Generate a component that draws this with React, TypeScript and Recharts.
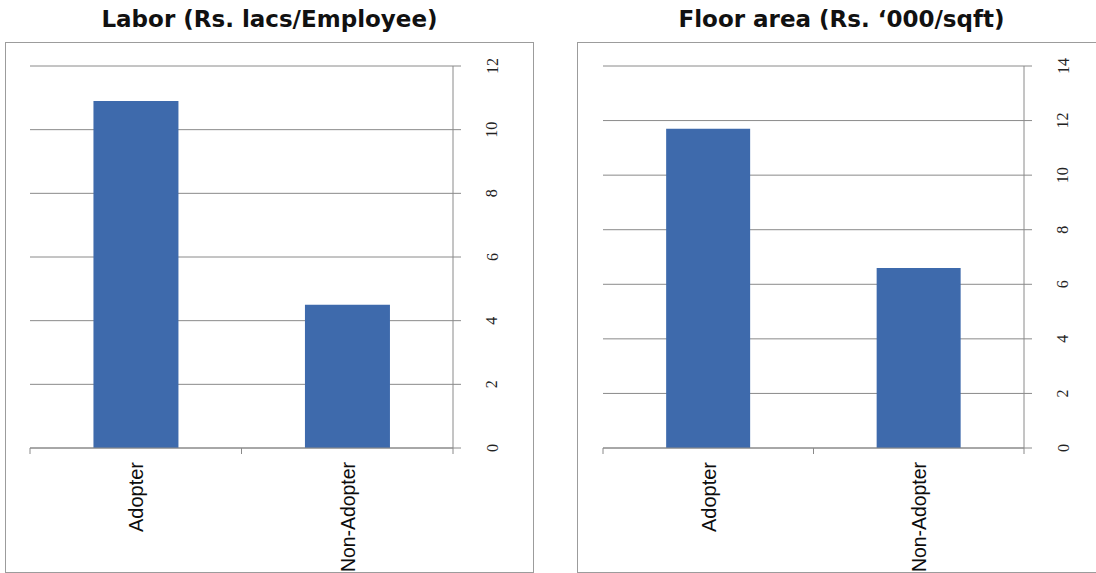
import React from "react";
import { BarChart, Bar, XAxis, YAxis, CartesianGrid } from "recharts";

const categories = ["Adopter", "Non-Adopter"];
const laborValues = [10.9, 4.5];
const floorAreaValues = [11.7, 6.6];
const laborTicks = [0, 2, 4, 6, 8, 10, 12];
const floorAreaTicks = [0, 2, 4, 6, 8, 10, 12, 14];

const BAR_BLUE = "#3e6aac";
const LINE_GREY = "#8a8a8a";
const BORDER_GREY = "#9c9c9c";

// category label plus the small boundary ticks between bands
function CategoryTick(props: any) {
  const { x, y, payload } = props;
  const half = payload.offset ?? 0;
  const isLast = payload.value === categories[categories.length - 1];
  const ty = y + 14;
  // condensed look: squeeze the label to about 10px per character
  const len = String(payload.value).length * 10;
  return (
    <g>
      <line x1={x - half} x2={x - half} y1={y} y2={y + 6} stroke={LINE_GREY} />
      {isLast && <line x1={x + half} x2={x + half} y1={y} y2={y + 6} stroke={LINE_GREY} />}
      <text
        x={x}
        y={ty}
        transform={`rotate(-90 ${x} ${ty})`}
        textAnchor="end"
        dominantBaseline="central"
        textLength={len}
        lengthAdjust="spacingAndGlyphs"
        style={{ fontFamily: "'Liberation Sans', Arial, sans-serif", fontSize: 21, fill: "#0d0d0d" }}
      >
        {payload.value}
      </text>
    </g>
  );
}

function ValueTick(props: any) {
  const { x, y, payload } = props;
  const tx = x + 31;
  return (
    <text
      x={tx}
      y={y}
      transform={`rotate(-90 ${tx} ${y})`}
      textAnchor="middle"
      dominantBaseline="central"
      style={{ fontFamily: "'Liberation Serif', 'DejaVu Serif', serif", fontSize: 16, fill: "#222" }}
    >
      {payload.value}
    </text>
  );
}

type PanelProps = {
  title: string;
  values: number[];
  ticks: number[];
  left: number;
  marginLeft: number;
  chartWidth: number;
};

function Panel({ title, values, ticks, left, marginLeft, chartWidth }: PanelProps) {
  const data = categories.map((name, i) => ({ name, value: values[i] }));
  return (
    <>
      <div
        style={{
          position: "absolute",
          left,
          top: 6,
          width: 529,
          textAlign: "center",
          fontFamily: "'DejaVu Sans', sans-serif",
          fontWeight: "bold",
          fontSize: 23,
          color: "#111",
          whiteSpace: "nowrap",
        }}
      >
        {title}
      </div>
      <div
        style={{
          position: "absolute",
          left,
          top: 42,
          width: 529,
          height: 531,
          border: `1px solid ${BORDER_GREY}`,
          boxSizing: "border-box",
          background: "#fff",
        }}
      >
        <BarChart
          width={chartWidth}
          height={529}
          data={data}
          margin={{ top: 23, right: 0, bottom: 0, left: marginLeft }}
          barCategoryGap="30%"
        >
          <CartesianGrid horizontal vertical={false} stroke={LINE_GREY} />
          <XAxis
            dataKey="name"
            height={124}
            axisLine={{ stroke: LINE_GREY }}
            tickLine={false}
            tickSize={0}
            tickMargin={0}
            interval={0}
            tick={<CategoryTick />}
          />
          <YAxis
            orientation="right"
            width={80}
            domain={[0, ticks[ticks.length - 1]]}
            ticks={ticks}
            axisLine={{ stroke: LINE_GREY }}
            tickLine={{ stroke: LINE_GREY }}
            tickSize={8}
            tickMargin={0}
            tick={<ValueTick />}
          />
          <Bar dataKey="value" fill={BAR_BLUE} isAnimationActive={false} />
        </BarChart>
      </div>
    </>
  );
}

export default function App() {
  return (
    <div
      style={{
        position: "absolute",
        left: 0,
        top: 0,
        width: 1096,
        height: 573,
        overflow: "hidden",
        background: "#fff",
      }}
    >
      <Panel
        title="Labor (Rs. lacs/Employee)"
        values={laborValues}
        ticks={laborTicks}
        left={5}
        marginLeft={24}
        chartWidth={527}
      />
      <Panel
        title="Floor area (Rs. ‘000/sqft)"
        values={floorAreaValues}
        ticks={floorAreaTicks}
        left={577}
        marginLeft={25}
        chartWidth={526}
      />
    </div>
  );
}
